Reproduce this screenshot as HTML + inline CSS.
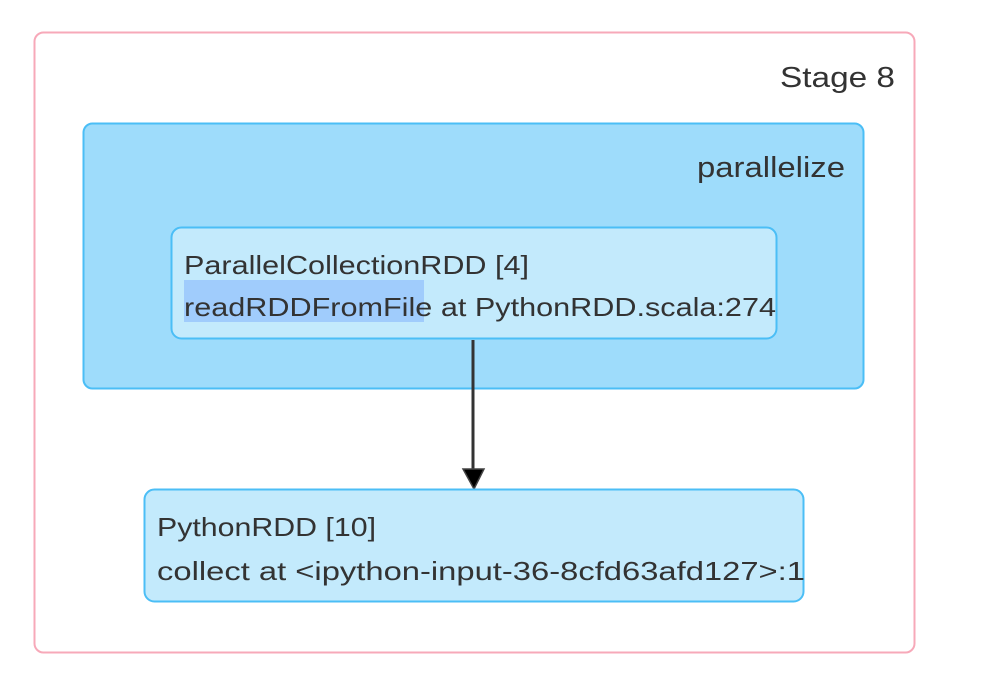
<!DOCTYPE html>
<html><head><style>html,body{margin:0;padding:0;background:#fff;}svg{display:block}</style></head>
<body>
<svg width="1004" height="684" xmlns="http://www.w3.org/2000/svg" font-family="Liberation Sans, sans-serif" fill="#333">
<rect x="34.5" y="32.5" width="880" height="620" rx="9" fill="#fff" stroke="#f7a9b9" stroke-width="2"/>
<text x="780" y="87" font-size="29" textLength="115" lengthAdjust="spacingAndGlyphs" fill="#333">Stage 8</text>
<rect x="83.5" y="123.5" width="780" height="265" rx="9" fill="#9edcfb" stroke="#4bbef6" stroke-width="2"/>
<text x="697" y="177" font-size="29" textLength="148" lengthAdjust="spacingAndGlyphs" fill="#333">parallelize</text>
<rect x="171.5" y="227.5" width="605" height="111" rx="10" fill="#c3eafc" stroke="#4bbef6" stroke-width="2"/>
<rect x="184" y="280" width="240" height="42" fill="#a0ccfc"/>
<text x="184" y="274" font-size="26" textLength="345" lengthAdjust="spacingAndGlyphs" fill="#333">ParallelCollectionRDD [4]</text>
<text x="184" y="316" font-size="26" textLength="592" lengthAdjust="spacingAndGlyphs" fill="#333">readRDDFromFile at PythonRDD.scala:274</text>
<line x1="473" y1="340" x2="473" y2="470" stroke="#333" stroke-width="3"/>
<polygon points="463,469 484,469 474,489" fill="#000" stroke="#444" stroke-width="1.5"/>
<rect x="144.5" y="489.5" width="659" height="112" rx="10" fill="#c3eafc" stroke="#4bbef6" stroke-width="2"/>
<text x="157" y="536" font-size="26" textLength="219" lengthAdjust="spacingAndGlyphs" fill="#333">PythonRDD [10]</text>
<text x="157" y="580" font-size="26" textLength="648" lengthAdjust="spacingAndGlyphs" fill="#333">collect at &lt;ipython-input-36-8cfd63afd127&gt;:1</text>
</svg>
</body></html>
